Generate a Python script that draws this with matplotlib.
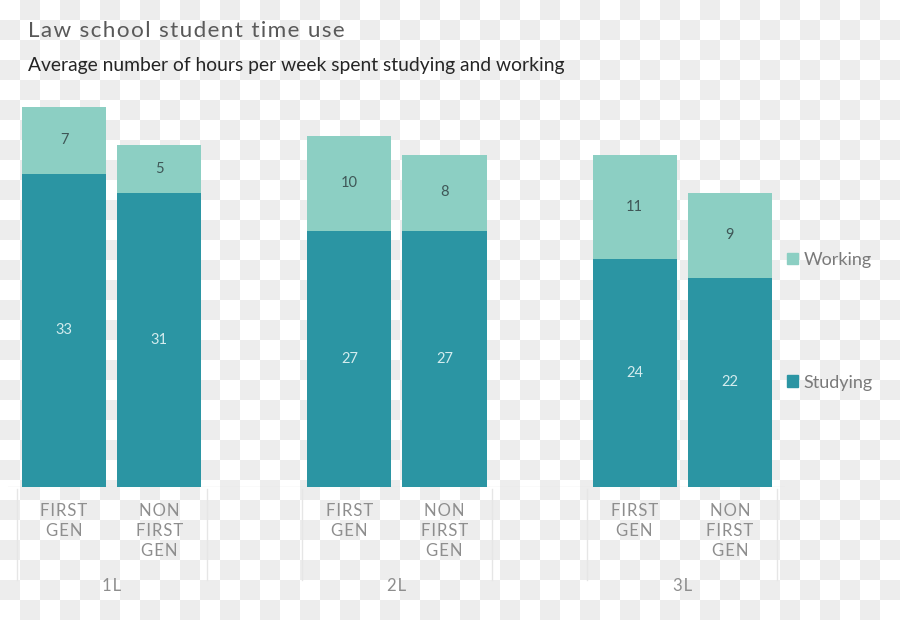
import numpy as np
import matplotlib.pyplot as plt
from matplotlib.patches import Patch

# data
years = ["1L", "2L", "3L"]
groups = ["FIRST\nGEN", "NON\nFIRST\nGEN"]
studying = [33, 31, 27, 27, 24, 22]
working = [7, 5, 10, 8, 11, 9]

c_study = "#2b95a3"
c_work = "#8ccfc3"
c_line = "#e6e6e6"
FONT = ["Lato", "DejaVu Sans"]


def spaced(s):
    # fake letter spacing with hair spaces
    return "\n".join("\u200a".join(line) for line in s.split("\n"))


W, H = 900, 620
fig = plt.figure(figsize=(W / 100, H / 100), dpi=100)

# transparency checkerboard behind everything
bg = fig.add_axes([0, 0, 1, 1], zorder=-10)
yy, xx = np.indices((H // 20 + 1, W // 20 + 1))
bg.imshow((xx + yy) % 2, cmap=plt.matplotlib.colors.ListedColormap(["#ffffff", "#ededed"]),
          extent=(0, (W // 20 + 1) * 20, (H // 20 + 1) * 20, 0), interpolation="nearest")
bg.set_xlim(0, W)
bg.set_ylim(H, 0)
bg.axis("off")

# bar positions: two bars per year, one empty slot between years
pos = []
for g in range(len(years)):
    pos += [g * 3, g * 3 + 1]
pos = np.array(pos, dtype=float)

ax = fig.add_axes([8 / W, (H - 487) / H, 777 / W, 389.5 / H])
ax.patch.set_alpha(0)
ax.set_xlim(-0.59, 7.58)
ax.set_ylim(0, 41)
ax.bar(pos, studying, width=0.884, color=c_study, label="Studying", zorder=3)
ax.bar(pos, working, width=0.884, bottom=studying, color=c_work, label="Working", zorder=3)

for x, s, w in zip(pos, studying, working):
    ax.text(x, s / 2, str(s), ha="center", va="center", fontsize=10.5,
            color="#d4ecee", family=FONT, zorder=4)
    ax.text(x, s + w / 2, str(w), ha="center", va="center", fontsize=10.5,
            color="#3f5757", family=FONT, zorder=4)

for sp in ax.spines.values():
    sp.set_visible(False)
ax.set_xticks([])
ax.set_yticks([])

# category axis (Excel-style multi-level)
ax.axhline(0, color=c_line, lw=1, zorder=1)
for i, x in enumerate(pos):
    ax.text(x, -1.65, spaced(groups[i % 2]), ha="center", va="top", fontsize=12,
            color="#8e8e8e", family=FONT, linespacing=1.32, clip_on=False)
for g, name in enumerate(years):
    x0, x1 = g * 3 - 0.5, g * 3 + 1.5
    for xe in (x0, x1):
        ax.plot([xe, xe], [-0.2, -9.8], color=c_line, lw=1, clip_on=False)
    ax.text((x0 + x1) / 2, -10.4, spaced(name), ha="center", va="center", fontsize=12,
            color="#8e8e8e", family=FONT, clip_on=False)

handles = [Patch(color=c_work, label="Working"), Patch(color=c_study, label="Studying")]
leg = ax.legend(handles=handles, loc="upper left", bbox_to_anchor=(0.982, 0.645),
                frameon=False, labelspacing=5.9, handlelength=0.6, handleheight=0.6,
                handletextpad=0.3, prop={"family": FONT, "size": 13})
for t in leg.get_texts():
    t.set_color("#7a7a7a")

fig.text(28 / W, 1 - 31 / H, spaced("Law school student time use"), ha="left", va="center",
         fontsize=16.2, color="#595959", family=FONT)
fig.text(28 / W, 1 - 65 / H, "Average number of hours per week spent studying and working",
         ha="left", va="center", fontsize=13.9, color="#262626", family=FONT)

fig.savefig("out.png", dpi=100)
